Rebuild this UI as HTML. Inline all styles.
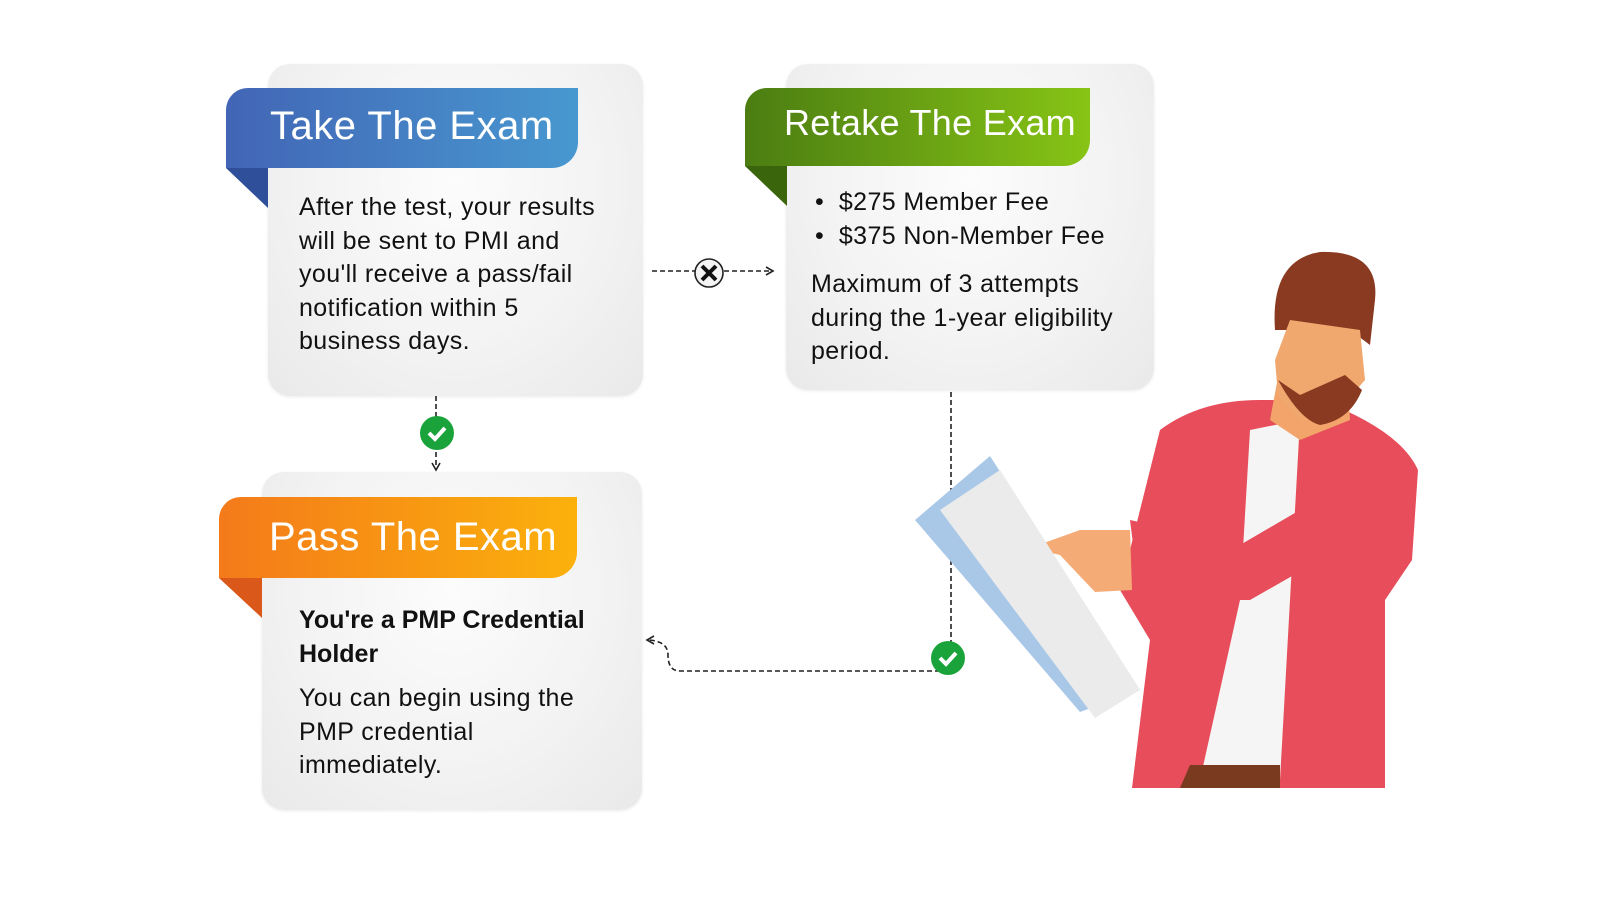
<!DOCTYPE html>
<html><head><style>
body{margin:0;width:1600px;height:901px;background:#fff;position:relative;overflow:hidden;font-family:"Liberation Sans",sans-serif;}
.card{position:absolute;border-radius:22px;background:radial-gradient(ellipse at 50% 35%,#fcfcfc 0%,#f3f3f3 55%,#e9e9e9 100%);box-shadow:0 1px 3px rgba(0,0,0,.08);}
.rib{position:absolute;color:#fff;font-size:40px;border-radius:22px 0 26px 0;box-sizing:border-box;padding-left:44px;letter-spacing:0.5px;white-space:nowrap}
.fold{position:absolute;width:42px;height:40px;clip-path:polygon(0 0,100% 0,100% 100%);}
.txt{position:absolute;font-size:25px;line-height:33.5px;color:#111;letter-spacing:0.4px;white-space:nowrap}
</style></head><body>
<div class="card" style="left:268px;top:64px;width:375px;height:332px"></div>
<div class="card" style="left:786px;top:64px;width:368px;height:326px"></div>
<div class="card" style="left:262px;top:472px;width:380px;height:338px"></div>

<div class="rib" style="left:226px;top:88px;width:352px;height:80px;line-height:76px;background:linear-gradient(90deg,#4265b5,#4898d0)">Take The Exam</div>
<div class="fold" style="left:226px;top:168px;background:#2f4f9a"></div>
<div class="rib" style="left:745px;top:88px;width:345px;height:78px;line-height:70px;background:linear-gradient(90deg,#4b7d12,#87c415);padding-left:39px;font-size:36px;letter-spacing:0.3px">Retake The Exam</div>
<div class="fold" style="left:745px;top:166px;background:#3b650c"></div>
<div class="rib" style="left:219px;top:497px;width:358px;height:81px;line-height:80px;background:linear-gradient(90deg,#f47a1a,#fbb10c);padding-left:50px">Pass The Exam</div>
<div class="fold" style="left:219px;top:578px;width:43px;background:#d9581a"></div>

<div class="txt" style="left:299px;top:191px">After the test, your results<br>will be sent to PMI and<br>you'll receive a pass/fail<br>notification within 5<br>business days.</div>
<div class="txt" style="left:815px;top:186px">•&nbsp; $275 Member Fee<br>•&nbsp; $375 Non-Member Fee</div>
<div class="txt" style="left:811px;top:268px">Maximum of 3 attempts<br>during the 1-year eligibility<br>period.</div>
<div class="txt" style="left:299px;top:604px;font-weight:bold;letter-spacing:0">You're a PMP Credential<br>Holder</div>
<div class="txt" style="left:299px;top:682px">You can begin using the<br>PMP credential<br>immediately.</div>

<svg width="1600" height="901" style="position:absolute;left:0;top:0">
<g stroke="#222" stroke-width="1.6" stroke-dasharray="5,3" fill="none">
<path d="M652 271H772"/>
<path d="M436 396V466"/>
<path d="M951 392V655"/>
<path d="M940 671H680Q668 671 668 655Q668 641 648 640"/>
</g>
<path d="M766 267l7 4-7 4M432 463l4 7 4-7M654 636l-7 4 7 4" stroke="#222" stroke-width="1.6" fill="none"/>
<circle cx="709" cy="273" r="14" fill="#f4f4f4" stroke="#222" stroke-width="1.6"/>
<path d="M702 266l14 14M716 266l-14 14" stroke="#111" stroke-width="4"/>
<circle cx="437" cy="433" r="17" fill="#1ba33b"/>
<path d="M429 433l6 6 10-11" stroke="#fff" stroke-width="4" fill="none"/>
<circle cx="948" cy="658" r="17" fill="#1ba33b"/>
<path d="M940 658l6 6 10-11" stroke="#fff" stroke-width="4" fill="none"/>
<!-- person -->
<path d="M1160 430Q1200 400 1260 400L1320 400Q1400 430 1418 470L1412 560 1385 600 1385 788 1132 788 1150 640 1120 590 1150 470Z" fill="#e74d5a"/>
<path d="M1250 430L1300 420 1280 780 1200 780 1240 600Z" fill="#f5f5f5"/>
<path d="M1190 765L1280 765 1280 788 1180 788Z" fill="#7a3a1f"/>
<path d="M1285 340L1345 340 1350 420 1300 440 1270 420Z" fill="#f2a46a"/>
<path d="M1275 330Q1270 260 1320 252Q1380 250 1375 300L1370 345 1350 330 1290 330Z" fill="#8a3a20"/>
<path d="M1275 360L1290 320 1360 330 1365 380 1330 420 1300 420 1278 395Z" fill="#f0a86e"/>
<path d="M1278 380Q1300 420 1320 425Q1350 420 1362 390L1345 375 1300 395Z" fill="#8a3a20"/>
<path d="M1130 520L1240 545 1300 510 1320 560 1250 600 1140 600Z" fill="#e74d5a"/>
<path d="M1030 548L1080 530 1130 530 1132 590 1095 592 1060 555Z" fill="#f5ab76"/>
<path d="M915 520L990 456 1140 690 1080 712Z" fill="#a9c8e8"/>
<path d="M940 510L1000 470 1140 690 1095 718Z" fill="#ebebeb"/>
</svg>
</body></html>
